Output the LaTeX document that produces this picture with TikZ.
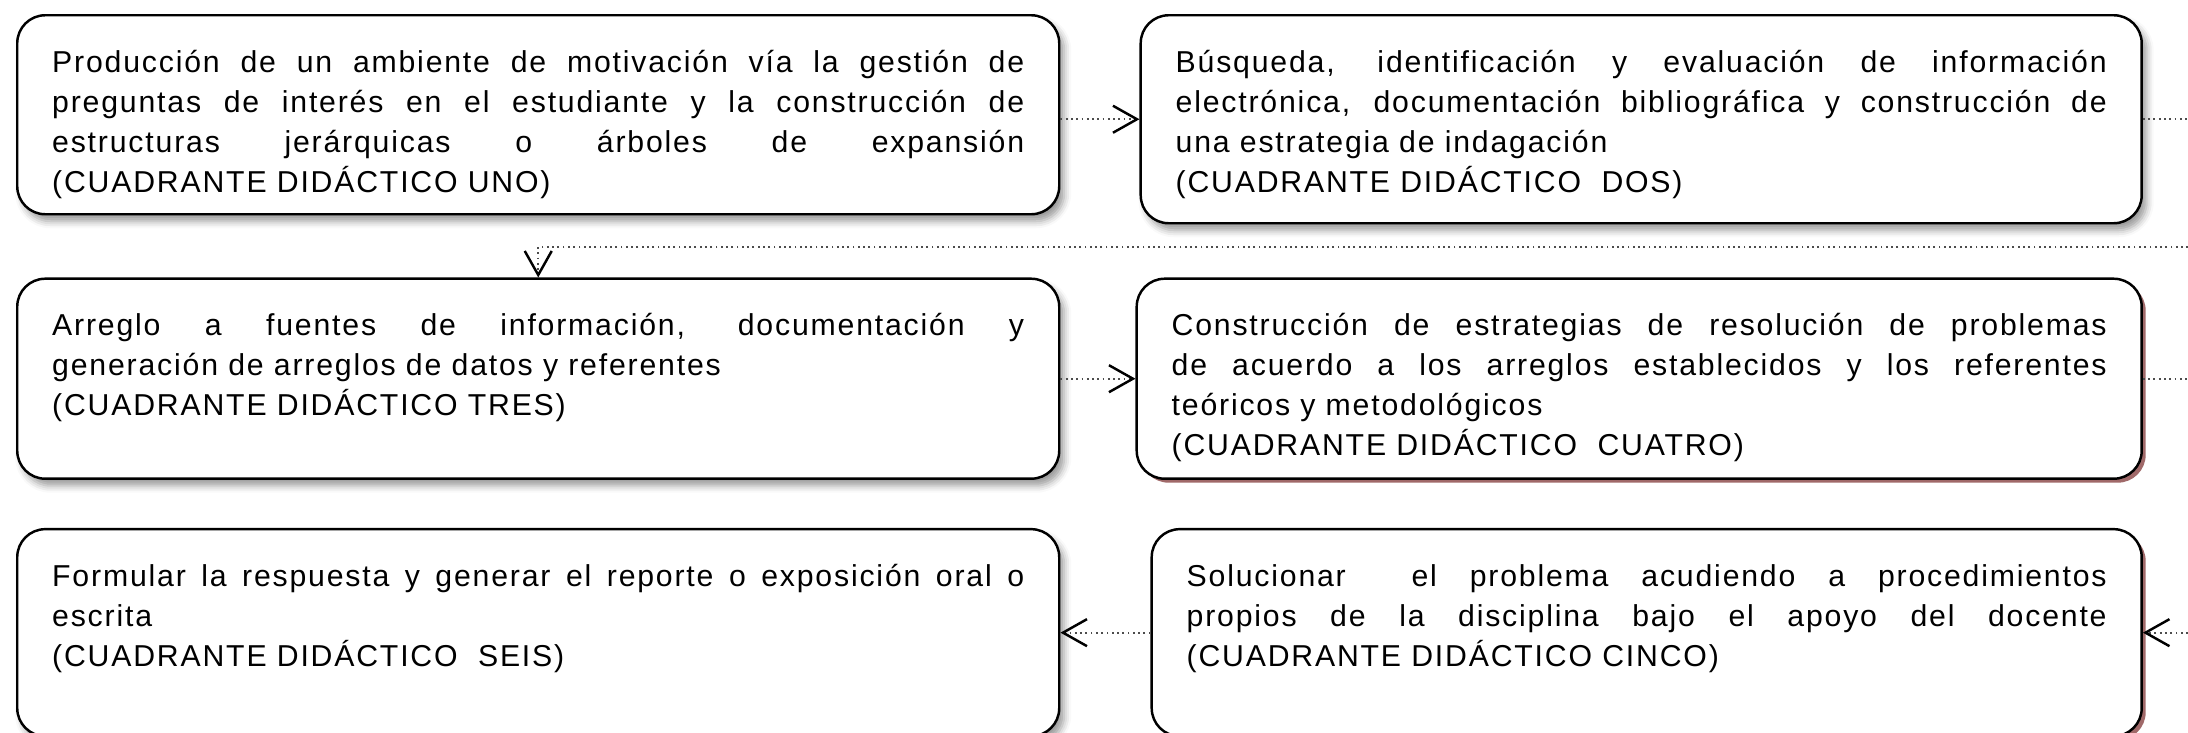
\documentclass[tikz,border=0pt]{standalone}
\usepackage{fontspec}
\setmainfont{Liberation Sans}[LetterSpace=6]
\usetikzlibrary{positioning,arrows.meta,shadows,shadows.blur}
\definecolor{sombra}{RGB}{160,105,105}
\hyphenpenalty=10000 \exhyphenpenalty=10000

\tikzset{
  cuadrante/.style={draw, line width=0.7pt, rounded corners=0.28cm, fill=white,
    align=justify, inner xsep=0.35cm, inner ysep=0.15cm, text height=0.42cm,
    font=\fontsize{8.6pt}{11.4pt}\selectfont, anchor=north west},
  gris/.style={blur shadow={shadow xshift=0.05cm, shadow yshift=-0.07cm,
    shadow blur radius=0.07cm}},
  rojiza/.style={drop shadow={fill=sombra, shadow xshift=0.04cm,
    shadow yshift=-0.04cm, opacity=1}},
  flecha/.style={->, line width=0.5pt, densely dotted, black!70}
}

\begin{document}
\begin{tikzpicture}[>={Straight Barb[length=0.24cm,width=0.27cm,line width=0.7pt,color=black]}]
  \useasboundingbox (0,0) rectangle (21.88,-7.32);
  \clip (0,0) rectangle (21.88,-7.32);

  \node[cuadrante,gris,text width=9.72cm,text depth=1.27cm] (c1) at (0.16,-0.14)
    {Producción de un ambiente de motivación vía la gestión de\linebreak
     preguntas de interés en el estudiante y la construcción de\linebreak
     estructuras jerárquicas o árboles de expansión\linebreak
     (CUADRANTE DIDÁCTICO UNO)};
  \node[cuadrante,gris,text width=9.31cm,text depth=1.36cm] (c2)
    [right=0.79cm of c1.north east,anchor=north west]
    {Búsqueda, identificación y evaluación de información\linebreak
     electrónica, documentación bibliográfica y construcción de\linebreak
     una estrategia de indagación\\
     (CUADRANTE DIDÁCTICO\ \ DOS)};
  \node[cuadrante,gris,text width=9.72cm,text depth=1.28cm] (c3)
    [below=0.62cm of c1.south west,anchor=north west]
    {Arreglo a fuentes de información, documentación y\linebreak
     generación de arreglos de datos y referentes\\
     (CUADRANTE DIDÁCTICO TRES)};
  \node[cuadrante,rojiza,text width=9.35cm,text depth=1.28cm] (c4)
    [right=0.75cm of c3.north east,anchor=north west]
    {Construcción de estrategias de resolución de problemas\linebreak
     de acuerdo a los arreglos establecidos y los referentes\linebreak
     teóricos y metodológicos\\
     (CUADRANTE DIDÁCTICO\ \ CUATRO)};
  \node[cuadrante,gris,text width=9.72cm,text depth=1.35cm] (c6)
    [below=0.48cm of c3.south west,anchor=north west]
    {Formular la respuesta y generar el reporte o exposición oral o\linebreak
     escrita\\
     (CUADRANTE DIDÁCTICO\ \ SEIS)};
  \node[cuadrante,rojiza,text width=9.20cm,text depth=1.35cm] (c5)
    [right=0.90cm of c6.north east,anchor=north west]
    {Solucionar\ \ el problema acudiendo a procedimientos\linebreak
     propios de la disciplina bajo el apoyo del docente\linebreak
     (CUADRANTE DIDÁCTICO CINCO)};

  % conectores
  \draw[flecha] (c1.east |- c2) -- (c2);
  \draw[flecha] (c2.east) -- ++(0.8,0) |- (c3.north |- 0,-2.47) -- (c3.north);
  \draw[flecha] (c3) -- (c4);
  \draw[flecha] (c4.east) -- ++(0.8,0) |- (c5.east);
  \draw[flecha] (c5) -- (c6);
\end{tikzpicture}
\end{document}
